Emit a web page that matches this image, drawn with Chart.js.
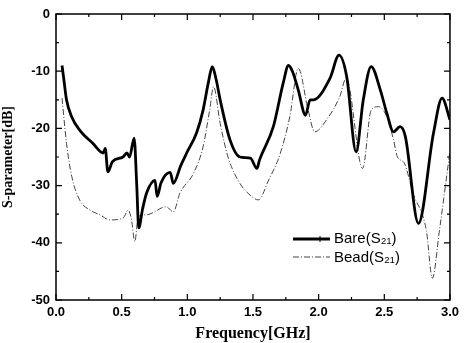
<!DOCTYPE html>
<html>
<head>
<meta charset="utf-8">
<script src="https://cdn.jsdelivr.net/npm/chart.js@4.4.1/dist/chart.umd.min.js"></script>
<style>
  html, body { margin: 0; padding: 0; background: #fff; }
  #wrap { width: 464px; height: 343px; }
</style>
</head>
<body>
<div id="wrap"><canvas id="chart" width="464" height="343"></canvas></div>
<script>
// Bare (S21) - thick line
const bareFreq = [0.046, 0.06, 0.08, 0.12, 0.18, 0.28, 0.36, 0.375, 0.395, 0.43, 0.51, 0.54, 0.56, 0.595, 0.615, 0.63, 0.66, 0.69, 0.754, 0.77, 0.80, 0.87, 0.893, 0.95, 0.995, 1.07, 1.12, 1.16, 1.19, 1.22, 1.25, 1.325, 1.40, 1.48, 1.53, 1.55, 1.655, 1.73, 1.77, 1.80, 1.845, 1.90, 1.935, 1.96, 2.087, 2.155, 2.214, 2.285, 2.34, 2.40, 2.47, 2.52, 2.57, 2.62, 2.66, 2.76, 2.874, 2.94, 3.0];
const bareDb = [-9.0, -11.5, -15, -18, -20.3, -22.6, -24.3, -23.5, -27.6, -25.8, -25.0, -24.3, -25.0, -21.7, -30, -37.4, -34, -31.3, -29.1, -31.9, -29.5, -27.7, -29.6, -26.5, -24.3, -20.8, -16.8, -12, -9.2, -11.5, -15, -22, -25, -25.2, -27, -25.5, -19.7, -12.1, -9.0, -10, -13.3, -17.7, -15, -15, -11.2, -7.2, -11, -24.1, -15, -9.2, -13.3, -17.4, -20.6, -19.7, -21.4, -36.6, -20.9, -14.7, -18.5];

// Bead (S21) - thin dash-dot line
const beadFreq = [0.046, 0.08, 0.12, 0.18, 0.26, 0.335, 0.41, 0.51, 0.55, 0.575, 0.60, 0.627, 0.69, 0.84, 0.893, 0.944, 1.046, 1.12, 1.17, 1.20, 1.25, 1.31, 1.40, 1.47, 1.54, 1.62, 1.706, 1.78, 1.845, 1.92, 1.97, 2.06, 2.16, 2.21, 2.335, 2.40, 2.455, 2.52, 2.57, 2.60, 2.65, 2.72, 2.82, 2.866, 2.92, 3.0];
const beadDb = [-14.7, -22.6, -28.4, -32.5, -34.3, -35.1, -36, -35.7, -34.3, -36, -39.8, -35.4, -35.1, -33.7, -34.6, -31.3, -27.9, -23.2, -16.8, -12.7, -19.1, -25, -29.6, -31.5, -32.5, -29, -24.5, -18, -9.5, -16.8, -20.6, -18.5, -14.5, -11.2, -27, -16.8, -16.2, -18, -22, -25, -26, -31.4, -37.8, -46.2, -37.8, -24];

const legendLabels = ['Bare(S\u2082\u2081)', 'Bead(S\u2082\u2081)'];

const toPoints = (xs, ys) => xs.map((x, i) => ({ x, y: ys[i] }));

// inward ticks on all four sides plus the frame
const frameTicks = {
  id: 'frameTicks',
  afterDraw(chart) {
    const { ctx, chartArea: a, scales: { x, y } } = chart;
    ctx.save();
    ctx.strokeStyle = '#000';
    ctx.lineWidth = 1.5;
    ctx.strokeRect(a.left, a.top, a.right - a.left, a.bottom - a.top);
    ctx.lineWidth = 1.2;
    for (let v = 0; v <= 3.0001; v += 0.25) {
      const px = x.getPixelForValue(v);
      const len = Math.abs(v / 0.5 - Math.round(v / 0.5)) < 0.01 ? 6 : 3;
      ctx.beginPath();
      ctx.moveTo(px, a.bottom); ctx.lineTo(px, a.bottom - len);
      ctx.moveTo(px, a.top); ctx.lineTo(px, a.top + len);
      ctx.stroke();
    }
    for (let v = -50; v <= 0; v += 5) {
      const py = y.getPixelForValue(v);
      const len = v % 10 === 0 ? 6 : 3;
      ctx.beginPath();
      ctx.moveTo(a.left, py); ctx.lineTo(a.left + len, py);
      ctx.moveTo(a.right, py); ctx.lineTo(a.right - len, py);
      ctx.stroke();
    }
    ctx.restore();
  }
};

// legend drawn inside the plot
const insideLegend = {
  id: 'insideLegend',
  afterDraw(chart) {
    const { ctx } = chart;
    ctx.save();
    ctx.strokeStyle = '#000';
    ctx.lineWidth = 3;
    ctx.beginPath();
    ctx.moveTo(293, 239); ctx.lineTo(330, 239);
    ctx.stroke();
    ctx.lineWidth = 1;
    ctx.beginPath();
    ctx.moveTo(320, 236); ctx.lineTo(320, 242);
    ctx.stroke();
    ctx.strokeStyle = '#444';
    ctx.setLineDash([6, 2, 1, 2]);
    ctx.beginPath();
    ctx.moveTo(293, 257); ctx.lineTo(330, 257);
    ctx.stroke();
    ctx.setLineDash([]);
    ctx.fillStyle = '#000';
    ctx.font = '15px "Liberation Sans", Arial, sans-serif';
    ctx.textBaseline = 'middle';
    ctx.fillText(legendLabels[0], 334, 239);
    ctx.fillText(legendLabels[1], 334, 258);
    ctx.restore();
  }
};

new Chart(document.getElementById('chart').getContext('2d'), {
  type: 'line',
  data: {
    datasets: [
      {
        label: legendLabels[0],
        data: toPoints(bareFreq, bareDb),
        borderColor: '#000',
        borderWidth: 2.8,
        pointRadius: 0,
        cubicInterpolationMode: 'monotone',
        fill: false,
      },
      {
        label: legendLabels[1],
        data: toPoints(beadFreq, beadDb),
        borderColor: '#444',
        borderWidth: 1,
        borderDash: [6, 2, 1, 2],
        pointRadius: 0,
        cubicInterpolationMode: 'monotone',
        fill: false,
      },
    ],
  },
  options: {
    responsive: false,
    animation: false,
    layout: { padding: { top: 14, right: 14, left: 0, bottom: 0 } },
    plugins: { legend: { display: false }, tooltip: { enabled: false } },
    scales: {
      x: {
        type: 'linear',
        min: 0,
        max: 3,
        grid: { display: false, drawTicks: false },
        border: { display: false },
        ticks: {
          stepSize: 0.5,
          padding: 5,
          color: '#000',
          font: { family: '"Liberation Sans", Arial, sans-serif', size: 13, weight: 'bold' },
          callback: (v) => v.toFixed(1),
        },
        title: {
          display: true,
          text: 'Frequency[GHz]',
          color: '#000',
          padding: { top: 3, bottom: 0 },
          font: { family: '"Liberation Serif", "Times New Roman", serif', size: 16, weight: 'bold' },
        },
        afterFit(scale) { scale.height = 43; },
      },
      y: {
        min: -50,
        max: 0,
        grid: { display: false, drawTicks: false },
        border: { display: false },
        ticks: {
          stepSize: 10,
          padding: 6,
          color: '#000',
          font: { family: '"Liberation Sans", Arial, sans-serif', size: 13, weight: 'bold' },
        },
        title: {
          display: true,
          text: 'S-parameter[dB]',
          color: '#000',
          padding: { top: 0, bottom: 2 },
          font: { family: '"Liberation Serif", "Times New Roman", serif', size: 14, weight: 'bold' },
        },
        afterFit(scale) { scale.width = 56; },
      },
    },
  },
  plugins: [frameTicks, insideLegend],
});
</script>
</body>
</html>
